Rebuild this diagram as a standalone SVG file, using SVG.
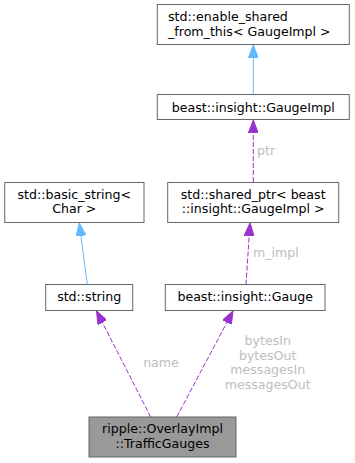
<svg xmlns="http://www.w3.org/2000/svg" width="355" height="463" viewBox="0 0 355 463">
  <style>
    .box { fill: #ffffff; stroke: #666666; stroke-width: 1; }
    .cur { fill: #999999; stroke: #666666; stroke-width: 1; }
    .t { font-family: "DejaVu Sans", sans-serif; font-size: 12.6px; fill: #000000; }
    .c { text-anchor: middle; }
    .lbl { font-family: "DejaVu Sans", sans-serif; font-size: 12.6px; fill: #bebebe; }
    .inh { stroke: #63b8ff; stroke-width: 1; fill: none; marker-end: url(#blueHead); }
    .use { stroke: #9a32cd; stroke-width: 1; fill: none; stroke-dasharray: 5,2; marker-end: url(#purpleHead); }
  </style>
  <defs>
    <marker id="blueHead" viewBox="0 0 13 10" refX="13" refY="5" markerWidth="13" markerHeight="10" markerUnits="userSpaceOnUse" orient="auto">
      <path d="M0,0 L13,5 L0,10 z" fill="#63b8ff" stroke="#63b8ff" stroke-width="1"/>
    </marker>
    <marker id="purpleHead" viewBox="0 0 13 10" refX="13" refY="5" markerWidth="13" markerHeight="10" markerUnits="userSpaceOnUse" orient="auto">
      <path d="M0,0 L13,5 L0,10 z" fill="#9a32cd" stroke="#9a32cd" stroke-width="1"/>
    </marker>
  </defs>

  <g id="edges">
    <line class="inh" x1="253.3" y1="94.5" x2="253.3" y2="45"/>
    <line class="use" x1="253.3" y1="182" x2="253.3" y2="120"/>
    <text class="lbl" x="257" y="155">ptr</text>
    <line class="use" x1="246" y1="284.5" x2="250" y2="223"/>
    <text class="lbl" x="253" y="257">m_impl</text>
    <line class="inh" x1="87.3" y1="284.5" x2="79.3" y2="223"/>
    <line class="use" x1="150.7" y1="417" x2="96.5" y2="311"/>
    <text class="lbl c" x="161" y="367">name</text>
    <line class="use" x1="176.7" y1="417" x2="233" y2="311"/>
    <text class="lbl c" x="267.7" y="345">bytesIn</text>
    <text class="lbl c" x="267.7" y="359.5">bytesOut</text>
    <text class="lbl c" x="267.7" y="374">messagesIn</text>
    <text class="lbl c" x="267.7" y="388.5">messagesOut</text>
  </g>

  <g id="node_enable_shared">
    <rect class="box" x="157.3" y="4.5" width="192" height="40"/>
    <text class="t" x="168" y="21">std::enable_shared</text>
    <text class="t" x="168" y="36">_from_this&lt; GaugeImpl &gt;</text>
  </g>

  <g id="node_gaugeimpl">
    <rect class="box" x="157.3" y="94.5" width="192" height="25"/>
    <text class="t c" x="253.3" y="111.5">beast::insight::GaugeImpl</text>
  </g>

  <g id="node_basic_string">
    <rect class="box" x="4.7" y="182.5" width="139.3" height="40"/>
    <text class="t c" x="74.3" y="199">std::basic_string&lt;</text>
    <text class="t c" x="74.3" y="213">Char &gt;</text>
  </g>

  <g id="node_shared_ptr">
    <rect class="box" x="167.7" y="182.5" width="171" height="40"/>
    <text class="t c" x="253.2" y="199">std::shared_ptr&lt; beast</text>
    <text class="t c" x="253.2" y="213">::insight::GaugeImpl &gt;</text>
  </g>

  <g id="node_string">
    <rect class="box" x="45.7" y="284.5" width="87" height="26"/>
    <text class="t c" x="89.2" y="301">std::string</text>
  </g>

  <g id="node_gauge">
    <rect class="box" x="165.3" y="284.5" width="159.7" height="26"/>
    <text class="t c" x="245.2" y="301">beast::insight::Gauge</text>
  </g>

  <g id="node_traffic_gauges">
    <rect class="cur" x="89" y="417" width="147" height="40"/>
    <text class="t c" x="162.5" y="432.5">ripple::OverlayImpl</text>
    <text class="t c" x="162.5" y="448">::TrafficGauges</text>
  </g>
</svg>
